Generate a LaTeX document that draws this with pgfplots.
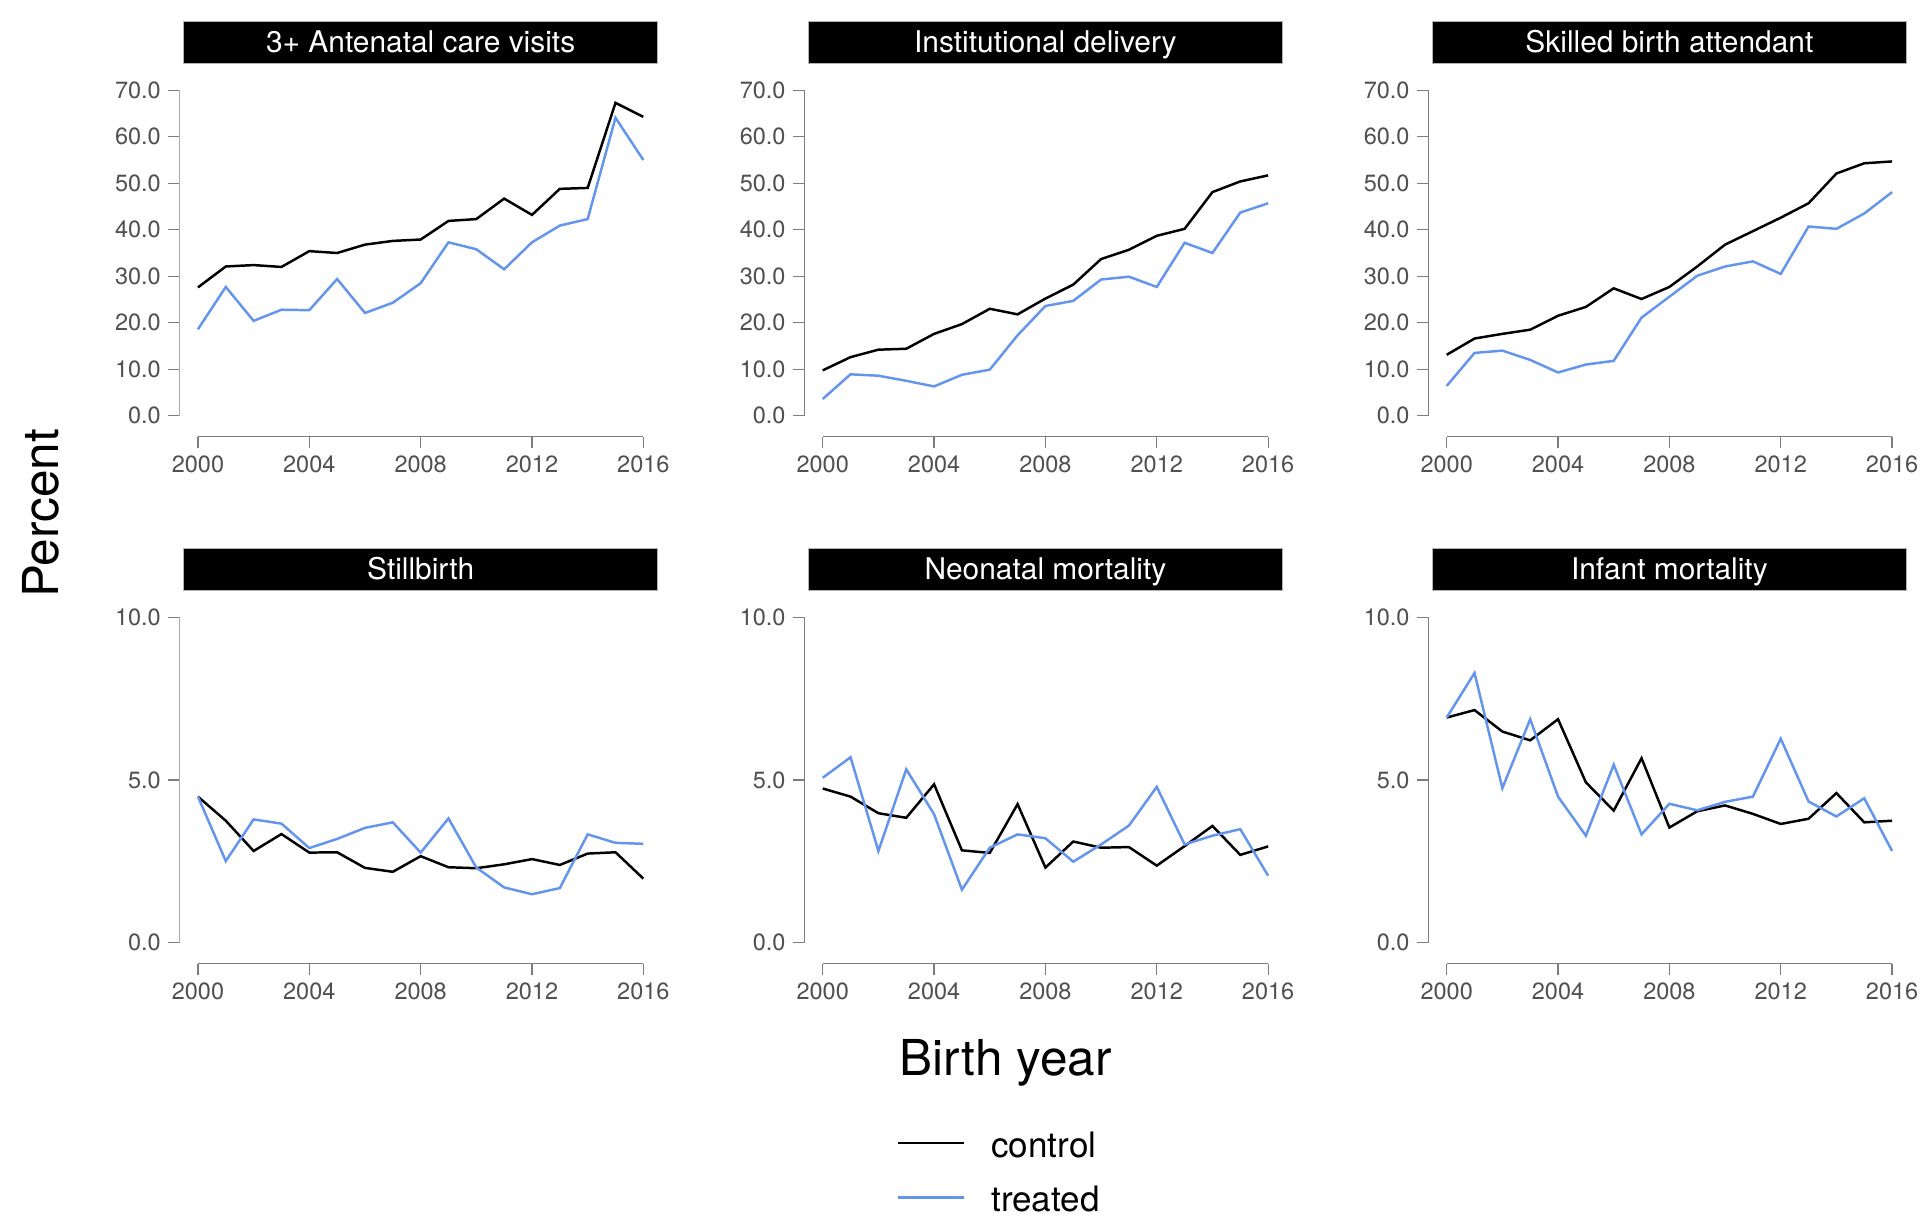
\documentclass[border=0pt]{standalone}
\usepackage{fontspec}
\setmainfont{TeX Gyre Heros}
\usepackage{pgfplots}
\usepackage{pgfplotstable}
\pgfplotsset{compat=1.18}
\definecolor{ctrl}{RGB}{0,0,0}
\definecolor{trt}{RGB}{100,149,237}
\definecolor{axgray}{RGB}{125,125,125}
\definecolor{lblgray}{RGB}{80,80,80}

\pgfplotstableread{
year ctrl trt
2000 27.6 18.6
2001 32.1 27.7
2002 32.4 20.4
2003 32.0 22.8
2004 35.4 22.7
2005 35.0 29.4
2006 36.8 22.1
2007 37.6 24.3
2008 37.9 28.5
2009 41.9 37.3
2010 42.3 35.8
2011 46.7 31.5
2012 43.2 37.3
2013 48.8 40.9
2014 49.0 42.3
2015 67.3 64.1
2016 64.3 55.0
}\anc

\pgfplotstableread{
year ctrl trt
2000 9.75 3.6
2001 12.6 8.9
2002 14.2 8.6
2003 14.4 7.5
2004 17.6 6.3
2005 19.7 8.8
2006 23.0 9.9
2007 21.8 17.3
2008 25.2 23.6
2009 28.2 24.7
2010 33.7 29.3
2011 35.7 29.9
2012 38.7 27.7
2013 40.2 37.2
2014 48.1 35.0
2015 50.4 43.7
2016 51.7 45.7
}\inst

\pgfplotstableread{
year ctrl trt
2000 13.1 6.4
2001 16.6 13.5
2002 17.6 14.0
2003 18.5 12.0
2004 21.5 9.3
2005 23.4 11.0
2006 27.4 11.8
2007 25.1 21.1
2008 27.7 25.6
2009 32.1 30.1
2010 36.8 32.1
2011 39.7 33.2
2012 42.6 30.5
2013 45.7 40.7
2014 52.1 40.2
2015 54.3 43.5
2016 54.7 48.1
}\sba

\pgfplotstableread{
year ctrl trt
2000 4.49 4.49
2001 3.75 2.51
2002 2.82 3.79
2003 3.34 3.66
2004 2.77 2.91
2005 2.78 3.19
2006 2.30 3.53
2007 2.18 3.70
2008 2.66 2.77
2009 2.32 3.82
2010 2.29 2.31
2011 2.41 1.70
2012 2.57 1.49
2013 2.39 1.68
2014 2.74 3.33
2015 2.78 3.07
2016 1.97 3.04
}\still

\pgfplotstableread{
year ctrl trt
2000 4.74 5.07
2001 4.49 5.70
2002 3.98 2.82
2003 3.84 5.33
2004 4.87 3.95
2005 2.84 1.63
2006 2.76 2.92
2007 4.26 3.33
2008 2.31 3.21
2009 3.11 2.49
2010 2.92 3.02
2011 2.94 3.60
2012 2.37 4.79
2013 2.97 3.02
2014 3.59 3.29
2015 2.70 3.49
2016 2.96 2.06
}\neo

\pgfplotstableread{
year ctrl trt
2000 6.92 6.92
2001 7.15 8.29
2002 6.49 4.75
2003 6.22 6.87
2004 6.87 4.49
2005 4.93 3.29
2006 4.06 5.47
2007 5.67 3.33
2008 3.54 4.27
2009 4.04 4.07
2010 4.22 4.33
2011 3.96 4.49
2012 3.65 6.27
2013 3.81 4.34
2014 4.60 3.88
2015 3.70 4.44
2016 3.75 2.82
}\inf

\pgfplotsset{
  panel/.style={
    scale only axis, width=234pt, height=177.6pt,
    xmin=1999.3333, xmax=2016.6667,
    axis x line*=bottom, axis y line*=left,
    axis line style={draw=none},
    xtick={2000,2004,2008,2012,2016},
    tick align=outside, major tick length=5.5pt,
    tick style={axgray, line width=0.6pt},
    ticklabel style={font=\fontsize{11.4}{13}\selectfont, text=lblgray},
    /pgf/number format/assume math mode=true,
    xticklabel style={/pgf/number format/1000 sep={}},
    yticklabel style={/pgf/number format/.cd, fixed, fixed zerofill, precision=1},
    title style={at={(rel axis cs:0.5,1)}, anchor=south, yshift=-2.6pt,
      fill=black, text=white, draw=gray!60, line width=0.4pt,
      minimum width=230pt, minimum height=20.4pt, inner sep=0pt,
      text height=10.4pt, text depth=0pt,
      font=\fontsize{14.5}{16}\selectfont},
    every axis plot/.append style={line width=1.2pt, no markers},
  },
  toprow/.style={panel, ymin=-4.525, ymax=74.26, ytick={0,10,...,70}},
  botrow/.style={panel, ymin=-0.6464, ymax=10.608, ytick={0,5,10}},
}

\newcommand{\toplines}{%
  \draw[axgray, line width=0.6pt] (axis cs:2000,-4.525) -- (axis cs:2016,-4.525);
  \draw[axgray, line width=0.6pt] (axis cs:1999.3333,0) -- (axis cs:1999.3333,70);
}
\newcommand{\botlines}{%
  \draw[axgray, line width=0.6pt] (axis cs:2000,-0.6464) -- (axis cs:2016,-0.6464);
  \draw[axgray, line width=0.6pt] (axis cs:1999.3333,0) -- (axis cs:1999.3333,10);
}

\begin{document}
\begin{tikzpicture}
\useasboundingbox (0,0) rectangle (936pt,592.2pt);

% ---- top row ----
\begin{axis}[toprow, at={(87pt,380.4pt)}, anchor=south west, title={3+ Antenatal care visits}]
\addplot[ctrl] table[x=year, y=ctrl] {\anc};
\addplot[trt] table[x=year, y=trt] {\anc};
\toplines
\end{axis}

\begin{axis}[toprow, at={(390pt,380.4pt)}, anchor=south west, title={Institutional delivery}]
\addplot[ctrl] table[x=year, y=ctrl] {\inst};
\addplot[trt] table[x=year, y=trt] {\inst};
\toplines
\end{axis}

\begin{axis}[toprow, at={(692.6pt,380.4pt)}, anchor=south west, title={Skilled birth attendant}]
\addplot[ctrl] table[x=year, y=ctrl] {\sba};
\addplot[trt] table[x=year, y=trt] {\sba};
\toplines
\end{axis}

% ---- bottom row ----
\begin{axis}[botrow, at={(87pt,124.8pt)}, anchor=south west, title={Stillbirth}]
\addplot[ctrl] table[x=year, y=ctrl] {\still};
\addplot[trt] table[x=year, y=trt] {\still};
\botlines
\end{axis}

\begin{axis}[botrow, at={(390pt,124.8pt)}, anchor=south west, title={Neonatal mortality},
  legend style={draw=none, fill=none, inner sep=0pt, outer sep=0pt,
    at={(axis description cs:0.1923,-0.4606)}, anchor=north west,
    font=\fontsize{17}{20}\selectfont, row sep=11pt,
    nodes={inner sep=0pt, text height=12pt, text depth=3.5pt}},
  legend cell align=left,
  legend image code/.code={\draw[#1] (0pt,2.6pt) -- (31.8pt,2.6pt);},
  /tikz/every odd column/.append style={column sep=12.8pt},
]
\addplot[ctrl] table[x=year, y=ctrl] {\neo};
\addlegendentry{control}
\addplot[trt] table[x=year, y=trt] {\neo};
\addlegendentry{treated}
\botlines
\end{axis}

\begin{axis}[botrow, at={(692.6pt,124.8pt)}, anchor=south west, title={Infant mortality}]
\addplot[ctrl] table[x=year, y=ctrl] {\inf};
\addplot[trt] table[x=year, y=trt] {\inf};
\botlines
\end{axis}

\node[rotate=90, font=\fontsize{24}{28}\selectfont] at (19.8pt,343.2pt) {Percent};
\node[anchor=base, font=\fontsize{24}{28}\selectfont] at (487.8pt,70.8pt) {Birth year};
\end{tikzpicture}
\end{document}
